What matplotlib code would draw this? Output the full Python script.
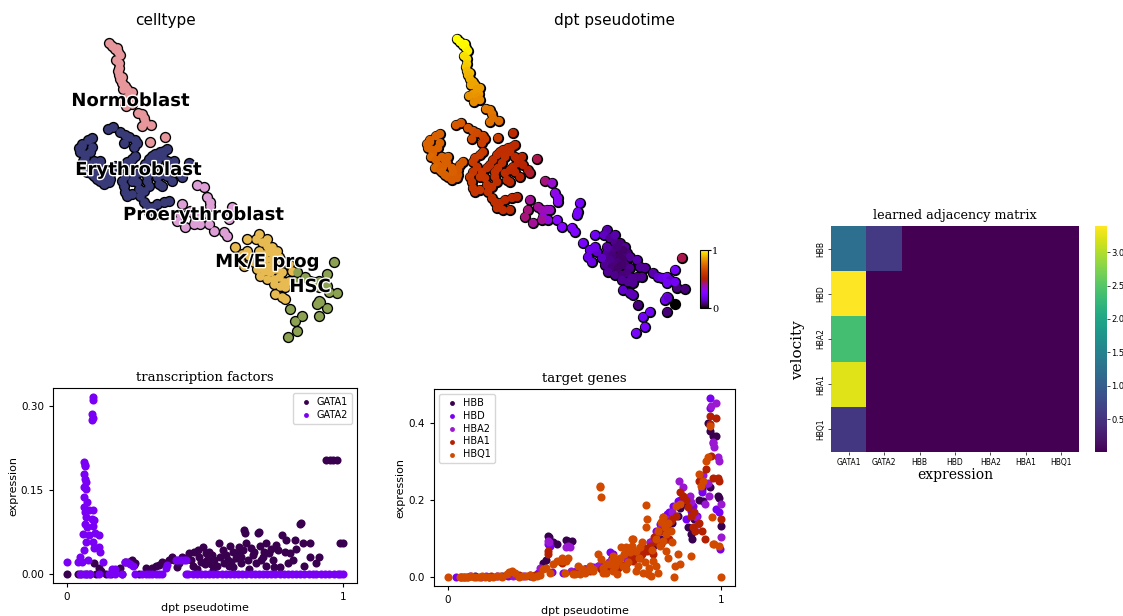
import numpy as np
import matplotlib
matplotlib.use("Agg")
import matplotlib.pyplot as plt
import matplotlib.patheffects as pe

# embedding cells per cell type: (umap1, umap2, dpt pseudotime)
normoblast = [(457, 39, 1.0), (460, 42, 1.0), (465, 44, 1.0), (463, 45, 0.99), (466, 48, 0.99),
              (468, 51, 0.98), (464, 56, 0.96), (467, 59, 0.95), (467, 64, 0.93), (466, 67, 0.92),
              (467, 71, 0.9), (470, 73, 0.9), (468, 75, 0.89), (470, 79, 0.88), (473, 82, 0.87),
              (475, 85, 0.86), (471, 85, 0.86), (477, 89, 0.85), (480, 88, 0.85), (479, 94, 0.84),
              (473, 94, 0.84), (469, 96, 0.83), (478, 97, 0.83), (474, 102, 0.82), (480, 100, 0.82),
              (486, 109, 0.78), (490, 110, 0.77), (492, 114, 0.77), (493, 118, 0.76), (490, 122, 0.76),
              (499, 121, 0.75), (498, 138, 0.62), (513, 133, 0.55)]
erythroblast = [(440, 134, 0.72), (436, 136, 0.72), (430, 140, 0.72), (456, 125, 0.7), (461, 123, 0.7),
                (468, 128, 0.68), (473, 131, 0.67), (477, 133, 0.66), (483, 136, 0.64), (485, 139, 0.63),
                (472, 139, 0.66), (430, 142, 0.73), (427, 144, 0.73), (428, 148, 0.73), (432, 150, 0.73),
                (433, 153, 0.73), (431, 157, 0.74), (436, 160, 0.73), (438, 165, 0.73), (435, 168, 0.74),
                (440, 170, 0.73), (443, 167, 0.72), (447, 163, 0.72), (442, 172, 0.73), (445, 175, 0.72),
                (448, 177, 0.72), (452, 180, 0.71), (457, 178, 0.71), (458, 175, 0.71), (458, 170, 0.7),
                (460, 165, 0.7), (463, 162, 0.7), (453, 172, 0.72), (440, 143, 0.73), (438, 148, 0.73),
                (442, 157, 0.73), (445, 160, 0.72), (452, 168, 0.72), (448, 157, 0.72),
                (482, 143, 0.62), (483, 152, 0.61), (480, 155, 0.62), (475, 158, 0.62), (473, 162, 0.61),
                (477, 167, 0.6), (473, 172, 0.6), (470, 177, 0.61), (472, 182, 0.6), (473, 188, 0.6),
                (475, 192, 0.59), (480, 190, 0.59), (487, 185, 0.58), (485, 178, 0.59), (480, 177, 0.6),
                (482, 172, 0.6), (487, 168, 0.58), (490, 165, 0.57), (493, 160, 0.57), (497, 155, 0.56),
                (500, 152, 0.56), (503, 150, 0.56), (508, 148, 0.56), (512, 147, 0.55), (515, 145, 0.55),
                (510, 152, 0.56), (505, 157, 0.57), (502, 163, 0.57), (498, 168, 0.58), (495, 172, 0.58),
                (495, 177, 0.58), (497, 182, 0.57), (492, 187, 0.58), (488, 192, 0.58), (492, 198, 0.57),
                (495, 202, 0.57), (500, 203, 0.56), (505, 200, 0.55), (512, 198, 0.54), (517, 197, 0.53),
                (503, 210, 0.56), (497, 208, 0.57), (510, 210, 0.55), (505, 173, 0.56), (507, 180, 0.55),
                (510, 170, 0.55), (513, 167, 0.55), (515, 172, 0.54), (518, 163, 0.53), (522, 157, 0.52),
                (523, 165, 0.52), (528, 170, 0.5), (520, 177, 0.52), (510, 182, 0.54), (515, 157, 0.54),
                (537, 159, 0.45), (530, 173, 0.47)]
proerythroblast = [(545, 181, 0.42), (552, 183, 0.35), (555, 193, 0.32), (558, 198, 0.3), (558, 202, 0.3),
                   (530, 200, 0.4), (538, 207, 0.4), (542, 210, 0.38), (547, 210, 0.37), (550, 210, 0.36),
                   (528, 210, 0.42), (525, 217, 0.42), (533, 223, 0.4), (543, 217, 0.34), (548, 220, 0.33),
                   (557, 220, 0.28), (562, 227, 0.27), (572, 228, 0.26), (575, 232, 0.25), (580, 203, 0.22),
                   (578, 212, 0.22), (577, 215, 0.22), (542, 220, 0.4)]
mke_prog = [(583, 243, 0.22), (595, 235, 0.2), (590, 250, 0.18), (588, 257, 0.18), (592, 262, 0.18),
            (597, 252, 0.15), (595, 247, 0.18), (607, 230, 0.12), (604, 235, 0.14), (610, 238, 0.1),
            (615, 242, 0.09), (620, 243, 0.08), (625, 247, 0.1), (618, 248, 0.08), (612, 250, 0.09),
            (607, 253, 0.1), (613, 255, 0.08), (620, 255, 0.07), (627, 253, 0.08), (630, 257, 0.1),
            (623, 260, 0.07), (617, 262, 0.08), (610, 260, 0.09), (605, 265, 0.1), (612, 267, 0.08),
            (618, 268, 0.07), (625, 265, 0.08), (630, 268, 0.09), (608, 272, 0.1), (615, 275, 0.09),
            (622, 275, 0.08), (627, 273, 0.08), (602, 258, 0.14), (607, 247, 0.11), (615, 235, 0.12),
            (623, 250, 0.07), (617, 247, 0.08), (622, 265, 0.07), (637, 260, 0.12), (640, 267, 0.1),
            (637, 277, 0.09), (632, 278, 0.1), (628, 282, 0.1), (633, 283, 0.1), (622, 280, 0.1),
            (623, 290, 0.15), (630, 293, 0.13), (633, 295, 0.13)]
hsc = [(645, 268, 0.1), (642, 277, 0.1), (653, 273, 0.12), (658, 277, 0.15), (662, 278, 0.18),
       (667, 277, 0.2), (670, 280, 0.15), (667, 283, 0.2), (677, 288, 0.08), (685, 289, 0.08),
       (675, 282, 0.2), (682, 258, 0.45), (675, 270, 0.22), (638, 305, 0.08), (667, 297, 0.2),
       (665, 300, 0.2), (668, 298, 0.15), (675, 304, 0.0), (667, 312, 0.08), (650, 312, 0.2),
       (643, 317, 0.2), (645, 327, 0.22), (636, 333, 0.22)]

celltypes = ['Normoblast', 'Erythroblast', 'Proerythroblast', 'MK/E prog', 'HSC']
celltype_colors = ['#e7969c', '#393b79', '#de9ed6', '#e7ba52', '#8ca252']
celltype_cells = [normoblast, erythroblast, proerythroblast, mke_prog, hsc]

# transcription factors: (dpt pseudotime, expression)
gata1 = [(0.0, 0.0), (0.04, 0.0), (0.05, 0.0), (0.07, 0.0), (0.085, 0.0), (0.097, 0.019), (0.105, 0.0),
         (0.115, 0.011), (0.125, 0.005), (0.14, 0.0), (0.16, 0.0), (0.194, 0.011), (0.2, 0.0),
         (0.212, 0.022), (0.224, 0.022), (0.236, 0.025), (0.242, 0.017), (0.248, 0.019), (0.26, 0.0),
         (0.285, 0.011), (0.297, 0.008), (0.309, 0.011), (0.321, 0.014), (0.333, 0.017), (0.345, 0.022),
         (0.358, 0.019), (0.37, 0.025), (0.382, 0.031), (0.388, 0.025), (0.406, 0.019), (0.418, 0.031),
         (0.43, 0.028), (0.442, 0.037), (0.448, 0.025), (0.461, 0.04), (0.473, 0.043), (0.479, 0.031),
         (0.491, 0.049), (0.503, 0.037), (0.509, 0.025), (0.515, 0.04), (0.527, 0.034), (0.533, 0.025),
         (0.545, 0.014), (0.552, 0.055), (0.564, 0.043), (0.576, 0.034), (0.582, 0.025), (0.588, 0.014),
         (0.6, 0.04), (0.612, 0.028), (0.618, 0.037), (0.624, 0.049), (0.636, 0.043), (0.642, 0.079),
         (0.646, 0.073), (0.655, 0.025), (0.667, 0.046), (0.673, 0.034), (0.679, 0.04), (0.691, 0.073),
         (0.697, 0.076), (0.703, 0.025), (0.709, 0.031), (0.721, 0.055), (0.733, 0.037), (0.745, 0.025),
         (0.758, 0.052), (0.764, 0.043), (0.779, 0.07), (0.788, 0.04), (0.794, 0.061), (0.806, 0.037),
         (0.818, 0.025), (0.824, 0.061), (0.842, 0.09), (0.848, 0.092), (0.855, 0.055), (0.879, 0.031),
         (0.879, 0.055), (0.913, 0.031), (0.939, 0.203), (0.952, 0.203), (0.964, 0.203), (0.976, 0.203),
         (0.988, 0.056), (1.0, 0.056), (0.47, 0.01), (0.53, 0.008), (0.6, 0.012), (0.66, 0.01),
         (0.72, 0.015), (0.77, 0.012), (0.57, 0.02), (0.63, 0.02), (0.5, 0.018), (0.4, 0.012),
         (0.455, 0.015), (0.485, 0.022), (0.52, 0.018), (0.555, 0.03), (0.595, 0.022), (0.63, 0.03),
         (0.685, 0.02), (0.715, 0.04), (0.74, 0.045), (0.75, 0.012), (0.8, 0.02), (0.83, 0.045),
         (0.86, 0.015), (0.9, 0.02), (0.7, 0.05), (0.65, 0.055), (0.59, 0.05)]
gata2 = [(0.0, 0.021), (0.095, 0.316), (0.095, 0.311), (0.091, 0.285), (0.095, 0.279), (0.092, 0.275),
         (0.061, 0.2), (0.067, 0.195), (0.065, 0.192), (0.061, 0.179), (0.065, 0.17), (0.069, 0.164),
         (0.061, 0.155), (0.069, 0.151), (0.061, 0.138), (0.073, 0.129), (0.061, 0.12), (0.079, 0.115),
         (0.093, 0.114), (0.064, 0.111), (0.069, 0.102), (0.091, 0.099), (0.097, 0.096), (0.064, 0.09),
         (0.073, 0.084), (0.095, 0.086), (0.057, 0.071), (0.079, 0.07), (0.103, 0.073), (0.115, 0.07),
         (0.069, 0.058), (0.095, 0.058), (0.115, 0.049), (0.097, 0.046), (0.061, 0.043), (0.121, 0.04),
         (0.048, 0.031), (0.055, 0.022), (0.042, 0.021), (0.076, 0.025), (0.13, 0.022),
         (0.048, 0.0), (0.061, 0.0), (0.073, 0.0), (0.085, 0.0), (0.115, 0.0), (0.152, 0.0),
         (0.164, 0.009), (0.176, 0.009), (0.176, 0.0), (0.2, 0.0), (0.21, 0.022), (0.218, 0.022),
         (0.23, 0.018), (0.239, 0.014), (0.248, 0.0), (0.273, 0.0), (0.285, 0.0), (0.297, 0.0),
         (0.309, 0.0), (0.321, 0.0), (0.333, 0.0), (0.345, 0.0), (0.358, 0.011), (0.364, 0.017),
         (0.394, 0.025), (0.403, 0.025), (0.412, 0.025), (0.424, 0.025), (0.43, 0.025),
         (0.43, 0.0), (0.44, 0.0), (0.455, 0.0), (0.47, 0.0), (0.485, 0.0), (0.5, 0.0), (0.515, 0.0),
         (0.53, 0.0), (0.545, 0.0), (0.56, 0.0), (0.575, 0.0), (0.59, 0.0), (0.605, 0.0), (0.62, 0.0),
         (0.635, 0.0), (0.65, 0.0), (0.665, 0.0), (0.68, 0.0), (0.695, 0.0), (0.71, 0.0), (0.725, 0.0),
         (0.74, 0.0), (0.755, 0.0), (0.77, 0.0), (0.785, 0.0), (0.8, 0.0), (0.815, 0.0), (0.83, 0.0),
         (0.845, 0.0), (0.86, 0.0), (0.875, 0.0), (0.89, 0.0), (0.9, 0.0), (0.92, 0.0), (0.935, 0.0),
         (0.95, 0.0), (0.965, 0.0), (0.98, 0.0), (0.99, 0.0), (1.0, 0.0)]

# target genes: (dpt pseudotime, expression)
hbb = [(0.05, 0.0), (0.1, 0.002), (0.15, 0.0), (0.2, 0.003), (0.25, 0.005), (0.3, 0.004), (0.349, 0.037),
       (0.36, 0.045), (0.367, 0.107), (0.372, 0.103), (0.386, 0.09), (0.398, 0.085), (0.432, 0.096),
       (0.44, 0.094), (0.453, 0.094), (0.5, 0.02), (0.55, 0.03), (0.6, 0.05), (0.65, 0.06), (0.7, 0.07),
       (0.75, 0.08), (0.78, 0.1), (0.8, 0.12), (0.82, 0.14), (0.84, 0.16), (0.85, 0.18), (0.86, 0.19),
       (0.878, 0.129), (0.89, 0.111), (0.893, 0.098), (0.9, 0.15), (0.92, 0.2), (0.933, 0.198),
       (0.957, 0.233), (0.957, 0.381), (0.969, 0.368), (0.981, 0.368), (0.988, 0.211), (0.99, 0.205),
       (0.998, 0.133), (0.93, 0.23), (0.95, 0.4)]
hbd = [(0.03, 0.0), (0.08, 0.002), (0.12, 0.0), (0.18, 0.003), (0.22, 0.004), (0.28, 0.003),
       (0.33, 0.01), (0.367, 0.085), (0.375, 0.08), (0.38, 0.012), (0.42, 0.01), (0.47, 0.015),
       (0.5, 0.02), (0.53, 0.025), (0.56, 0.03), (0.59, 0.04), (0.592, 0.064), (0.605, 0.059),
       (0.62, 0.045), (0.65, 0.05), (0.68, 0.06), (0.7, 0.065), (0.72, 0.07), (0.74, 0.09),
       (0.763, 0.12), (0.775, 0.138), (0.787, 0.155), (0.8, 0.165), (0.81, 0.17), (0.824, 0.185),
       (0.842, 0.198), (0.85, 0.2), (0.87, 0.15), (0.89, 0.172), (0.896, 0.185), (0.91, 0.16),
       (0.93, 0.22), (0.945, 0.242), (0.957, 0.466), (0.96, 0.44), (0.97, 0.35), (0.981, 0.177),
       (0.99, 0.17), (0.997, 0.072)]
hba2 = [(0.06, 0.0), (0.14, 0.002), (0.24, 0.004), (0.3, 0.005), (0.337, 0.024), (0.367, 0.094),
        (0.372, 0.09), (0.434, 0.077), (0.44, 0.08), (0.447, 0.077), (0.45, 0.015), (0.5, 0.02),
        (0.55, 0.03), (0.59, 0.04), (0.62, 0.045), (0.65, 0.05), (0.68, 0.065), (0.71, 0.075),
        (0.74, 0.09), (0.76, 0.11), (0.78, 0.13), (0.8, 0.15), (0.82, 0.17), (0.846, 0.251),
        (0.86, 0.233), (0.884, 0.211), (0.89, 0.194), (0.909, 0.155), (0.914, 0.138), (0.933, 0.266),
        (0.951, 0.246), (0.963, 0.446), (0.979, 0.452), (0.969, 0.351), (0.975, 0.338), (0.988, 0.312),
        (0.991, 0.303), (1.0, 0.19), (1.0, 0.103), (0.94, 0.19), (0.955, 0.21)]
hba1 = [(0.07, 0.0), (0.16, 0.002), (0.26, 0.005), (0.32, 0.006), (0.367, 0.068), (0.367, 0.059),
        (0.41, 0.042), (0.416, 0.037), (0.46, 0.01), (0.52, 0.015), (0.56, 0.02), (0.592, 0.02),
        (0.623, 0.024), (0.653, 0.033), (0.678, 0.042), (0.702, 0.05), (0.71, 0.06), (0.73, 0.068),
        (0.74, 0.08), (0.755, 0.103), (0.76, 0.09), (0.779, 0.12), (0.8, 0.13), (0.81, 0.1),
        (0.815, 0.146), (0.82, 0.15), (0.836, 0.159), (0.848, 0.22), (0.86, 0.21), (0.87, 0.2),
        (0.878, 0.181), (0.89, 0.159), (0.896, 0.129), (0.9, 0.17), (0.902, 0.12), (0.92, 0.251),
        (0.92, 0.14), (0.93, 0.12), (0.94, 0.1), (0.943, 0.281), (0.957, 0.42), (0.979, 0.414),
        (0.957, 0.399), (0.963, 0.316), (0.969, 0.259), (0.988, 0.258), (0.99, 0.251), (1.0, 0.151),
        (0.63, 0.035), (0.67, 0.05), (0.72, 0.075), (0.75, 0.06), (0.78, 0.085), (0.8, 0.1)]
hbq1 = [(0.0, 0.0), (0.045, 0.0), (0.055, 0.0), (0.065, 0.001), (0.075, 0.0), (0.085, 0.002), (0.095, 0.0),
        (0.105, 0.001), (0.115, 0.0), (0.125, 0.002), (0.135, 0.0), (0.15, 0.001), (0.165, 0.0),
        (0.18, 0.002), (0.19, 0.004), (0.2, 0.0), (0.215, 0.007), (0.225, 0.012), (0.234, 0.016),
        (0.246, 0.011), (0.26, 0.0), (0.27, 0.003), (0.288, 0.004), (0.3, 0.006), (0.313, 0.0),
        (0.325, 0.004), (0.337, 0.005), (0.349, 0.02), (0.361, 0.024), (0.373, 0.01), (0.386, 0.033),
        (0.398, 0.042), (0.416, 0.042), (0.416, 0.05), (0.428, 0.011), (0.434, 0.042), (0.44, 0.05),
        (0.459, 0.007), (0.464, 0.007), (0.483, 0.007), (0.5, 0.011), (0.507, 0.016), (0.532, 0.016),
        (0.532, 0.02), (0.55, 0.059), (0.556, 0.238), (0.558, 0.233), (0.56, 0.207), (0.562, 0.046),
        (0.568, 0.011), (0.568, 0.024), (0.58, 0.01), (0.592, 0.033), (0.605, 0.016), (0.605, 0.055),
        (0.61, 0.03), (0.617, 0.009), (0.623, 0.042), (0.635, 0.077), (0.64, 0.03), (0.653, 0.02),
        (0.653, 0.077), (0.66, 0.04), (0.672, 0.1), (0.672, 0.081), (0.677, 0.098), (0.689, 0.016),
        (0.689, 0.068), (0.7, 0.05), (0.702, 0.077), (0.714, 0.011), (0.72, 0.04), (0.724, 0.188),
        (0.726, 0.129), (0.729, 0.151), (0.732, 0.007), (0.737, 0.024), (0.744, 0.003), (0.75, 0.042),
        (0.768, 0.011), (0.775, 0.081), (0.781, 0.142), (0.787, 0.155), (0.787, 0.094), (0.793, 0.129),
        (0.799, 0.111), (0.799, 0.068), (0.827, 0.0), (0.83, 0.029), (0.836, 0.185), (0.843, 0.059),
        (0.848, 0.033), (0.848, 0.19), (0.89, 0.055), (0.918, 0.268), (0.927, 0.238), (0.933, 0.251),
        (0.945, 0.303), (0.951, 0.312), (0.957, 0.394), (0.967, 0.155), (0.969, 0.087), (0.975, 0.085),
        (0.991, 0.081), (1.0, 0.0), (0.58, 0.035), (0.6, 0.045), (0.63, 0.05), (0.645, 0.06),
        (0.665, 0.065), (0.695, 0.03), (0.71, 0.09), (0.745, 0.07), (0.76, 0.1), (0.77, 0.12),
        (0.805, 0.14), (0.815, 0.12), (0.82, 0.09), (0.805, 0.05), (0.76, 0.03), (0.52, 0.03),
        (0.49, 0.02), (0.475, 0.03)]

tf_names = ['GATA1', 'GATA2']
tf_colors = ['#39004f', '#7a00f5']
target_names = ['HBB', 'HBD', 'HBA2', 'HBA1', 'HBQ1']
target_colors = ['#39004f', '#7a00f5', '#9a18d2', '#b42000', '#d24a00']

# learned adjacency matrix (rows: velocity, cols: expression)
adj_rows = ['HBB', 'HBD', 'HBA2', 'HBA1', 'HBQ1']
adj_cols = ['GATA1', 'GATA2', 'HBB', 'HBD', 'HBA2', 'HBA1', 'HBQ1']
adj = [[1.25, 0.58, 0.01, 0.01, 0.01, 0.01, 0.01],
       [3.39, 0.01, 0.01, 0.01, 0.01, 0.01, 0.01],
       [2.38, 0.01, 0.01, 0.01, 0.01, 0.01, 0.01],
       [3.22, 0.01, 0.01, 0.01, 0.01, 0.01, 0.01],
       [0.56, 0.01, 0.01, 0.01, 0.01, 0.01, 0.01]]

W, H = 1123, 616
fig = plt.figure(figsize=(W / 100, H / 100), dpi=100)

def box(x0, y0, x1, y1):
    return [x0 / W, 1 - y1 / H, (x1 - x0) / W, (y1 - y0) / H]

# celltype embedding
ax1 = fig.add_axes(box(62, 34, 347, 349))
for name, col, cells in zip(celltypes, celltype_colors, celltype_cells):
    c = np.array(cells)
    ax1.scatter(c[:, 0], c[:, 1], s=66, c='black', linewidths=0, zorder=1)
for name, col, cells in zip(celltypes, celltype_colors, celltype_cells):
    c = np.array(cells)
    ax1.scatter(c[:, 0], c[:, 1], s=38, c=col, linewidths=0, zorder=2)
label_pos = [(478, 97), (486, 166), (551, 211), (615, 258), (658, 283)]
for name, (lx, ly) in zip(celltypes, label_pos):
    ax1.text(lx, ly, name, fontsize=13, fontweight='bold', ha='center', va='center', zorder=3,
             path_effects=[pe.withStroke(linewidth=2, foreground='white')])
ax1.set_xlim(410, 695)
ax1.set_ylim(345, 30)
ax1.axis('off')
fig.text(166 / W, 1 - 20 / H, 'celltype', fontsize=11, ha='center', va='center')

# pseudotime embedding
ax2 = fig.add_axes(box(410, 30, 695, 345))
allc = np.array([p for cells in celltype_cells for p in cells])
ax2.scatter(allc[:, 0], allc[:, 1], s=66, c='black', linewidths=0, zorder=1)
sc = ax2.scatter(allc[:, 0], allc[:, 1], s=38, c=allc[:, 2], cmap='gnuplot', vmin=0, vmax=1,
                 linewidths=0, zorder=2)
ax2.set_xlim(410, 695)
ax2.set_ylim(345, 30)
ax2.axis('off')
fig.text(615 / W, 1 - 20 / H, 'dpt pseudotime', fontsize=11, ha='center', va='center')
cax2 = fig.add_axes(box(700, 250, 708, 308))
cb2 = fig.colorbar(sc, cax=cax2, ticks=[0, 1])
cb2.ax.tick_params(labelsize=7, length=2, pad=1)
for t in cb2.ax.get_yticklabels():
    t.set_family('DejaVu Serif')

# transcription factors
ax3 = fig.add_axes(box(53, 388, 357, 583))
for name, col, data in zip(tf_names, tf_colors, [gata1, gata2]):
    d = np.array(data)
    ax3.scatter(d[:, 0], d[:, 1], s=34, c=col, label=name, linewidths=0)
ax3.set_xticks([0, 1])
ax3.set_yticks([0, 0.15, 0.30])
ax3.set_yticklabels(['0.00', '0.15', '0.30'])
ax3.tick_params(labelsize=7.5, length=3)
ax3.set_xlabel('dpt pseudotime', fontsize=8, labelpad=1)
ax3.set_ylabel('expression', fontsize=8, labelpad=2)
ax3.set_title('transcription factors', fontsize=9.5, family='DejaVu Serif', pad=5)
ax3.legend(loc='upper right', fontsize=7, markerscale=0.6, handletextpad=0.1, borderpad=0.4,
           labelspacing=0.3)

# target genes
ax4 = fig.add_axes(box(434, 389, 735, 586))
for name, col, data in zip(target_names, target_colors, [hbb, hbd, hba2, hba1, hbq1]):
    d = np.array(data)
    ax4.scatter(d[:, 0], d[:, 1], s=34, c=col, label=name, linewidths=0)
ax4.set_xticks([0, 1])
ax4.set_yticks([0, 0.2, 0.4])
ax4.tick_params(labelsize=7.5, length=3)
ax4.set_xlabel('dpt pseudotime', fontsize=8, labelpad=1)
ax4.set_ylabel('expression', fontsize=8, labelpad=2)
ax4.set_title('target genes', fontsize=9.5, family='DejaVu Serif', pad=5)
ax4.legend(loc='upper left', fontsize=7, markerscale=0.6, handletextpad=0.1, borderpad=0.4,
           labelspacing=0.3)

# adjacency heatmap
ax5 = fig.add_axes(box(831, 226, 1079, 452))
im = ax5.imshow(np.array(adj), cmap='viridis', aspect='auto')
ax5.set_xticks(range(len(adj_cols)))
ax5.set_xticklabels(adj_cols)
ax5.set_yticks(range(len(adj_rows)))
ax5.set_yticklabels(adj_rows, rotation=90, va='center')
ax5.tick_params(labelsize=5.5, length=2, width=0.5, pad=2)
for s in ax5.spines.values():
    s.set_visible(False)
ax5.set_xlabel('expression', fontsize=10, family='DejaVu Serif', labelpad=1)
ax5.set_ylabel('velocity', fontsize=11, family='DejaVu Serif')
ax5.yaxis.set_label_coords(-0.105, 0.45)
ax5.set_title('learned adjacency matrix', fontsize=9.2, family='DejaVu Serif', pad=5)
cax5 = fig.add_axes(box(1095, 226, 1107, 452))
cb5 = fig.colorbar(im, cax=cax5, ticks=[0.5, 1.0, 1.5, 2.0, 2.5, 3.0])
cb5.outline.set_visible(False)
cb5.ax.tick_params(labelsize=6, length=2, width=0.5, pad=1)

fig.savefig('out.png', dpi=100)
